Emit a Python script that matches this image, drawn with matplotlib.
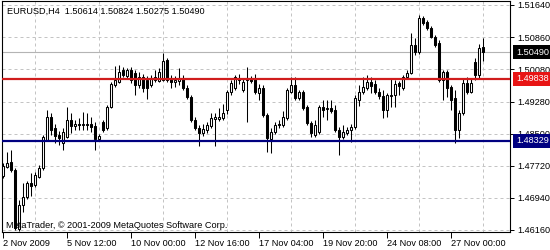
import matplotlib
matplotlib.use("Agg")
import matplotlib.pyplot as plt
import matplotlib.transforms as mtransforms
from matplotlib.ticker import MultipleLocator, FormatStrFormatter

# EURUSD H4 candles, 2 Nov 2009 20:00 onward
opens = [1.4747, 1.4769, 1.4782, 1.4762, 1.4618, 1.4677, 1.4696, 1.4730, 1.4726, 1.4745,
         1.4767, 1.4835, 1.4891, 1.4864, 1.4847, 1.4828, 1.4843, 1.4884, 1.4869, 1.4874,
         1.4872, 1.4874, 1.4874, 1.4869, 1.4838, 1.4879, 1.4864, 1.4915, 1.4969, 1.4976,
         1.5006, 1.4991, 1.5006, 1.4998, 1.4969, 1.4989, 1.4981, 1.4969, 1.4981, 1.4979,
         1.4981, 1.5030, 1.4986, 1.4976, 1.4979, 1.4986, 1.4962, 1.4940, 1.4884, 1.4864,
         1.4852, 1.4860, 1.4869, 1.4886, 1.4886, 1.4889, 1.4908, 1.4952, 1.4962, 1.4981,
         1.4957, 1.4981, 1.4984, 1.4984, 1.4950, 1.4962, 1.4896, 1.4838, 1.4855, 1.4872,
         1.4872, 1.4889, 1.4952, 1.4969, 1.4937, 1.4952, 1.4915, 1.4876, 1.4847, 1.4855,
         1.4915, 1.4911, 1.4913, 1.4908, 1.4860, 1.4843, 1.4852, 1.4860, 1.4867, 1.4933,
         1.4952, 1.4962, 1.4976, 1.4972, 1.4952, 1.4942, 1.4908, 1.4942, 1.4945, 1.4974,
         1.4962, 1.4989, 1.4998, 1.5067, 1.5049, 1.5132, 1.5123, 1.5108, 1.5086, 1.5071,
         1.4981, 1.5001, 1.4964, 1.4937, 1.4860, 1.4901, 1.4974, 1.4952, 1.5025, 1.4993,
         1.50614]
highs = [1.4779, 1.4806, 1.4811, 1.4767, 1.4689, 1.4730, 1.4735, 1.4755, 1.4757, 1.4774,
         1.4847, 1.4908, 1.4901, 1.4874, 1.4857, 1.4864, 1.4915, 1.4901, 1.4884, 1.4889,
         1.4903, 1.4901, 1.4891, 1.4879, 1.4850, 1.4884, 1.4920, 1.4976, 1.5015, 1.5018,
         1.5013, 1.5011, 1.5013, 1.5006, 1.5001, 1.4996, 1.4991, 1.4993, 1.5006, 1.5011,
         1.5047, 1.5035, 1.4993, 1.4991, 1.5011, 1.4993, 1.4969, 1.4945, 1.4891, 1.4872,
         1.4874, 1.4879, 1.4901, 1.4901, 1.4913, 1.4923, 1.4957, 1.4981, 1.4993, 1.4996,
         1.4986, 1.5013, 1.4991, 1.4996, 1.4972, 1.4969, 1.4901, 1.4864, 1.4879, 1.4884,
         1.4906, 1.4962, 1.4989, 1.4989, 1.4957, 1.4957, 1.4920, 1.4881, 1.4884, 1.4920,
         1.4933, 1.4933, 1.4933, 1.4920, 1.4867, 1.4872, 1.4867, 1.4874, 1.4945, 1.4969,
         1.4989, 1.4993, 1.4989, 1.4981, 1.4962, 1.4957, 1.4950, 1.4986, 1.4981, 1.4979,
         1.4993, 1.5006, 1.5096, 1.5084, 1.5140, 1.5137, 1.5127, 1.5113, 1.5091, 1.5079,
         1.5006, 1.5006, 1.4969, 1.4957, 1.4908, 1.4986, 1.4989, 1.4986, 1.5035, 1.5069,
         1.50824]
lows = [1.4743, 1.4767, 1.4757, 1.4616, 1.4613, 1.4660, 1.4692, 1.4699, 1.4721, 1.4743,
        1.4762, 1.4833, 1.4847, 1.4828, 1.4823, 1.4811, 1.4840, 1.4852, 1.4860, 1.4860,
        1.4860, 1.4860, 1.4855, 1.4811, 1.4833, 1.4855, 1.4860, 1.4913, 1.4964, 1.4974,
        1.4989, 1.4986, 1.4974, 1.4945, 1.4962, 1.4952, 1.4935, 1.4964, 1.4976, 1.4976,
        1.4979, 1.4976, 1.4962, 1.4964, 1.4969, 1.4957, 1.4935, 1.4879, 1.4860, 1.4821,
        1.4845, 1.4852, 1.4864, 1.4821, 1.4881, 1.4884, 1.4898, 1.4945, 1.4957, 1.4972,
        1.4952, 1.4879, 1.4974, 1.4947, 1.4933, 1.4891, 1.4806, 1.4804, 1.4850, 1.4864,
        1.4867, 1.4884, 1.4950, 1.4933, 1.4933, 1.4908, 1.4872, 1.4843, 1.4843, 1.4850,
        1.4891, 1.4884, 1.4901, 1.4855, 1.4799, 1.4838, 1.4847, 1.4830, 1.4862, 1.4918,
        1.4947, 1.4957, 1.4950, 1.4947, 1.4935, 1.4889, 1.4891, 1.4915, 1.4915, 1.4945,
        1.4957, 1.4984, 1.4996, 1.5042, 1.5045, 1.5115, 1.5103, 1.5084, 1.5061, 1.4976,
        1.4933, 1.4940, 1.4908, 1.4828, 1.4840, 1.4896, 1.4947, 1.4950, 1.4981, 1.4986,
        1.50275]
closes = [1.4772, 1.4779, 1.4762, 1.4621, 1.4677, 1.4696, 1.4730, 1.4723, 1.4750, 1.4767,
          1.4843, 1.4891, 1.4860, 1.4845, 1.4840, 1.4855, 1.4884, 1.4869, 1.4874, 1.4872,
          1.4874, 1.4872, 1.4867, 1.4838, 1.4845, 1.4860, 1.4915, 1.4972, 1.4981, 1.5001,
          1.4993, 1.5006, 1.4981, 1.4969, 1.4989, 1.4962, 1.4962, 1.4986, 1.4989, 1.5001,
          1.5027, 1.4981, 1.4976, 1.4981, 1.4986, 1.4962, 1.4940, 1.4884, 1.4864, 1.4852,
          1.4862, 1.4872, 1.4889, 1.4891, 1.4891, 1.4901, 1.4952, 1.4974, 1.4989, 1.4986,
          1.4976, 1.4986, 1.4979, 1.4952, 1.4962, 1.4896, 1.4840, 1.4855, 1.4872, 1.4874,
          1.4891, 1.4957, 1.4969, 1.4937, 1.4952, 1.4913, 1.4876, 1.4852, 1.4872, 1.4915,
          1.4908, 1.4913, 1.4906, 1.4860, 1.4843, 1.4855, 1.4860, 1.4867, 1.4937, 1.4952,
          1.4964, 1.4976, 1.4967, 1.4952, 1.4942, 1.4908, 1.4945, 1.4945, 1.4972, 1.4967,
          1.4989, 1.4998, 1.5067, 1.5049, 1.5132, 1.5120, 1.5108, 1.5086, 1.5067, 1.4981,
          1.5001, 1.4962, 1.4933, 1.4860, 1.4901, 1.4974, 1.4952, 1.4974, 1.4993, 1.5059,
          1.50490]

price_ticks = [1.51640, 1.50860, 1.50080, 1.49280, 1.48500, 1.47720, 1.46940, 1.46160]
date_bars = [0, 16, 32, 48, 64, 80, 96, 112]
date_labels = ["2 Nov 2009", "5 Nov 12:00", "10 Nov 00:00", "12 Nov 16:00",
               "17 Nov 04:00", "19 Nov 20:00", "24 Nov 08:00", "27 Nov 00:00"]
resistance = 1.49838
support = 1.48329
bid = 1.50490

plt.rcParams['font.family'] = ['Liberation Sans', 'DejaVu Sans']
plt.rcParams['font.size'] = 6.6

fig = plt.figure(figsize=(5.5, 2.5), dpi=100)
ax = fig.add_axes([2 / 550, 18 / 250, 508 / 550, 231 / 250])
ax.set_xlim(-0.25, 126.75)
ax.set_ylim(1.46111, 1.51737)

# grid
ax.set_yticks(price_ticks)
ax.yaxis.set_major_formatter(FormatStrFormatter('%.5f'))
ax.set_xticks(date_bars)
ax.set_xticklabels(date_labels)
ax.xaxis.set_minor_locator(MultipleLocator(8))
ax.grid(True, which='major', axis='y', ls=(0, (3, 3)), color='#c4c4c4', lw=0.72, zorder=0)
ax.grid(True, which='minor', axis='x', ls=(0, (3, 3)), color='#c4c4c4', lw=0.72, zorder=0)
ax.set_axisbelow(True)

# candles
idx = list(range(len(closes)))
ax.vlines(idx, lows, highs, color='black', lw=0.75, zorder=2)
bottoms = [min(o, c) for o, c in zip(opens, closes)]
heights = [max(abs(c - o), 0.00006) for o, c in zip(opens, closes)]
colors = ['white' if c >= o else 'black' for o, c in zip(opens, closes)]
ax.bar(idx, heights, bottom=bottoms, width=0.5, color=colors,
       edgecolor='black', lw=0.75, zorder=3)

# horizontal levels
ax.axhline(bid, color='#b4b4b4', lw=0.8, zorder=1)
ax.axhline(resistance, color='#d01c1c', lw=1.6, zorder=4)
ax.axhline(support, color='#000080', lw=1.6, zorder=4)

trans = mtransforms.blended_transform_factory(ax.transAxes, ax.transData)
for val, bg in [(bid, 'black'), (resistance, '#e81414'), (support, '#000080')]:
    ax.text(1.0 + 6 / 508, val, f"{val:.5f}", transform=trans, va='center', ha='left',
            color='white', clip_on=False, zorder=10,
            bbox=dict(boxstyle='square,pad=0.3', fc=bg, ec='none'))

for sp in ax.spines.values():
    sp.set_color('black')
    sp.set_linewidth(0.8)

ax.tick_params(axis='y', which='major', left=False, right=True, labelleft=False,
               labelright=True, length=3, width=0.7, pad=2, direction='out')
ax.tick_params(axis='x', which='major', length=4, width=0.7, pad=1, direction='out')
ax.tick_params(axis='x', which='minor', length=0)
plt.setp(ax.get_xticklabels(), ha='left')

fig.text(7 / 550, 1 - 11 / 250, "EURUSD,H4  1.50614 1.50824 1.50275 1.50490",
         va='center', ha='left', color='black')
fig.text(6 / 550, 25 / 250, "MetaTrader, \u00a9 2001-2009 MetaQuotes Software Corp.",
         va='center', ha='left', color='black')

fig.savefig("out.png", dpi=100)
